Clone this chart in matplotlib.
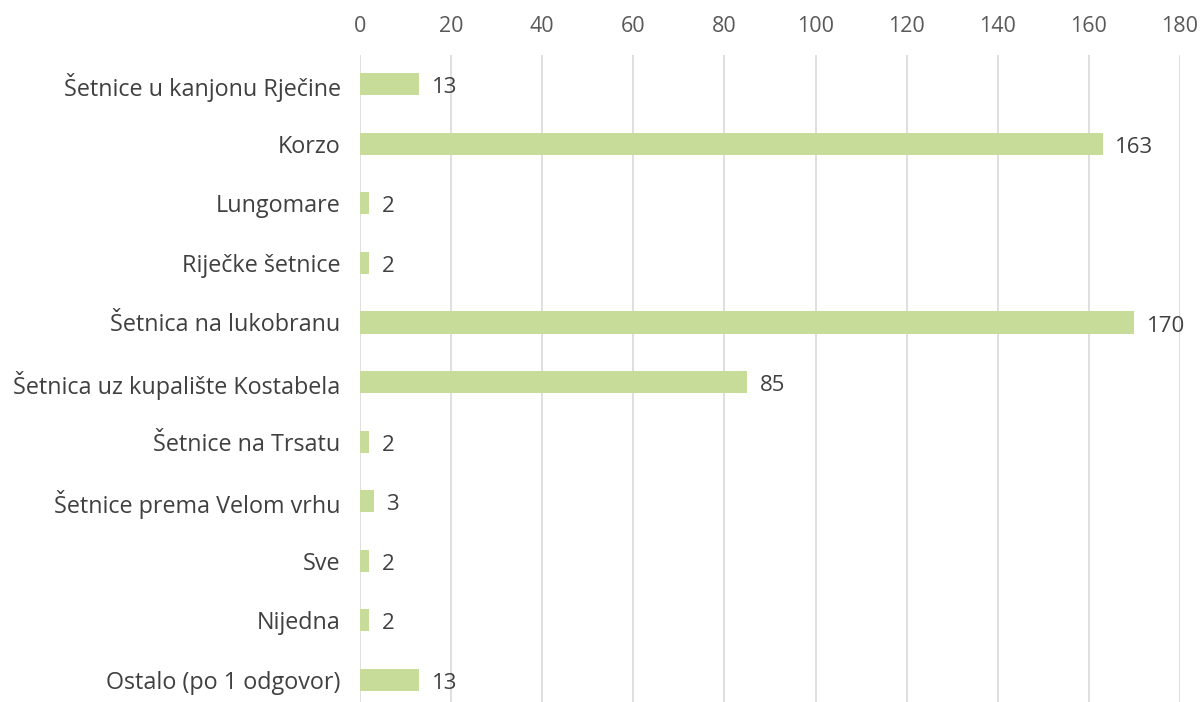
import matplotlib.pyplot as plt

plt.rcParams['font.family'] = ['Open Sans', 'DejaVu Sans']

categories = ['Šetnice u kanjonu Rječine', 'Korzo', 'Lungomare', 'Riječke šetnice',
              'Šetnica na lukobranu', 'Šetnica uz kupalište Kostabela', 'Šetnice na Trsatu',
              'Šetnice prema Velom vrhu', 'Sve', 'Nijedna', 'Ostalo (po 1 odgovor)']
values = [13, 163, 2, 2, 170, 85, 2, 3, 2, 2, 13]
ticks = [0, 20, 40, 60, 80, 100, 120, 140, 160, 180]

fig = plt.figure(figsize=(12.02, 7.02), dpi=100)
ax = fig.add_axes([360/1202, 0, 820/1202, 1 - 55/702])

pos = list(range(len(categories)))
ax.barh(pos, values, height=0.37, color='#c6dc98', zorder=3)
for p, v in zip(pos, values):
    ax.text(v + 2.8, p + 0.06, str(v), va='center', ha='left', fontsize=16, color='#404040')

ax.set_xlim(0, 180)
ax.set_ylim(10.37, -0.49)
ax.set_xticks(ticks)
ax.xaxis.tick_top()
ax.tick_params(axis='x', length=0, pad=13, labelsize=15.5, labelcolor='#595959')
ax.set_yticks(pos)
ax.set_yticklabels(categories)
ax.tick_params(axis='y', length=0, pad=14, labelsize=16.8, labelcolor='#404040')
ax.grid(axis='x', color='#dcdcdc', linewidth=1.3, zorder=0)
for s in ax.spines.values():
    s.set_visible(False)

plt.savefig('out.png', dpi=100)
